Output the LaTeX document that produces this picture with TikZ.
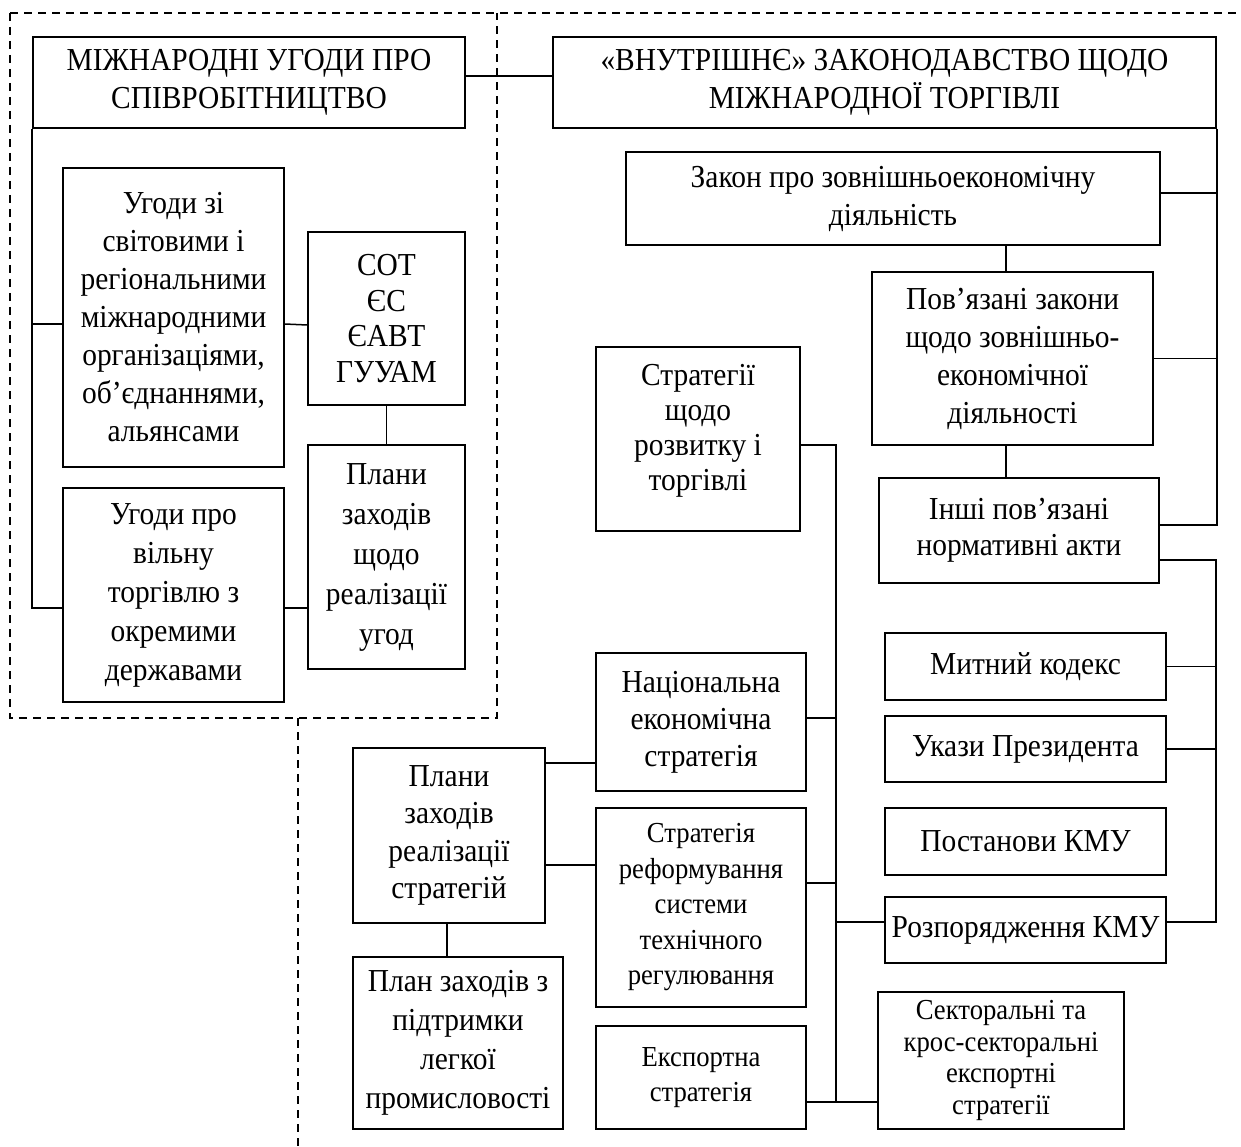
\documentclass[tikz,border=0pt]{standalone}
\usepackage{fontspec}
\setmainfont{Liberation Serif}[FakeStretch=0.92]
\tikzset{box/.style={draw,line width=1.8pt,align=center,inner sep=0pt,font=\fontsize{32}{38}\selectfont},headbox/.style={box,font=\fontsize{32}{38}\selectfont},smallbox/.style={box,font=\fontsize{29}{35.5}\selectfont},link/.style={line width=1.5pt},zone/.style={line width=1.4pt,dash pattern=on 8pt off 6pt}}

\begin{document}
\begin{tikzpicture}[x=1pt,y=-1pt]
\useasboundingbox (0,0) rectangle (1241,1147);
\draw[zone] (10,13) -- (1241,13); \draw[zone] (10,13) -- (10,718) -- (497,718) -- (497,13); \draw[zone] (298,718) -- (298,1147);
\node[headbox,minimum width=432pt,minimum height=91pt] (intl) at (249,82.5) {МІЖНАРОДНІ УГОДИ ПРО\\СПІВРОБІТНИЦТВО};
\node[headbox,minimum width=663pt,minimum height=91pt] (domestic) at (884.5,82.5) {«ВНУТРІШНЄ» ЗАКОНОДАВСТВО ЩОДО\\МІЖНАРОДНОЇ ТОРГІВЛІ};
\node[box,minimum width=221pt,minimum height=299pt] (orgs) at (173.5,317.5) {Угоди зі\\світовими і\\регіональними\\міжнародними\\організаціями,\\об’єднаннями,\\альянсами};
\node[box,font=\fontsize{32}{39}\selectfont,minimum width=221pt,minimum height=214pt] (fta) at (173.5,595) {Угоди про\\вільну\\торгівлю з\\окремими\\державами};
\node[box,font=\fontsize{32}{35.5}\selectfont,minimum width=157pt,minimum height=173pt] (wto) at (386.5,318.5) {СОТ\\ЄС\\ЄАВТ\\ГУУАМ};
\node[box,font=\fontsize{32}{40}\selectfont,minimum width=157pt,minimum height=224pt] (plansagr) at (386.5,557) {Плани\\заходів\\щодо\\реалізації\\угод};
\node[box,minimum width=534pt,minimum height=93pt] (law) at (893,198.5) {Закон про зовнішньоекономічну\\діяльність};
\node[box,minimum width=281pt,minimum height=173pt] (related) at (1012.5,358.5) {Пов’язані закони\\щодо зовнішньо-\\економічної\\діяльності};
\node[box,font=\fontsize{32}{36}\selectfont,minimum width=280pt,minimum height=105pt] (other) at (1019,530.5) {Інші пов’язані\\нормативні акти};
\node[box,minimum width=281pt,minimum height=67pt] (customs) at (1025.5,666.5) {Митний кодекс};
\node[box,minimum width=281pt,minimum height=66pt] (decrees) at (1025.5,749) {Укази Президента};
\node[box,minimum width=281pt,minimum height=67pt] (resol) at (1025.5,841.5) {Постанови КМУ};
\node[box,minimum width=281pt,minimum height=66pt] (orders) at (1025.5,930) {Розпорядження КМУ};
\node[box,font=\fontsize{32}{35}\selectfont,minimum width=204pt,minimum height=184pt,text depth=24pt] (devstrat) at (698,439) {Стратегії\\щодо\\розвитку і\\торгівлі};
\node[box,font=\fontsize{32}{37}\selectfont,minimum width=210pt,minimum height=138pt] (natstrat) at (701,722) {Національна\\економічна\\стратегія};
\node[smallbox,minimum width=210pt,minimum height=199pt] (techstrat) at (701,907.5) {Стратегія\\реформування\\системи\\технічного\\регулювання};
\node[smallbox,minimum width=210pt,minimum height=103pt] (expstrat) at (701,1077.5) {Експортна\\стратегія};
\node[smallbox,font=\fontsize{29}{31.5}\selectfont,minimum width=246pt,minimum height=137pt] (sectstrat) at (1001,1060.5) {Секторальні та\\крос-секторальні\\експортні\\стратегії};
\node[box,font=\fontsize{32}{37.5}\selectfont,minimum width=192pt,minimum height=175pt] (plansstrat) at (449,835.5) {Плани\\заходів\\реалізації\\стратегій};
\node[box,font=\fontsize{32}{39}\selectfont,minimum width=210pt,minimum height=172pt] (lightind) at (458,1043) {План заходів з\\підтримки\\легкої\\промисловості};
\coordinate (bus) at (1216,560); \coordinate (midbus) at (836,445);
\draw[link] ([yshift=6.5pt]intl.east) -- ([yshift=6.5pt]domestic.west);
\draw[link] (intl.south west) |- ([yshift=-13pt]fta.west); \draw[link] ([yshift=-6.5pt]orgs.west) -| (intl.south west);
\draw[link] ([yshift=-6.5pt]orgs.east) -- ([yshift=-6.5pt]wto.west); \draw[link] (wto.south) -- (plansagr.north);
\draw[link] ([yshift=-13pt]fta.east) -- ([yshift=-51pt]plansagr.west);
\draw[link] (domestic.south east) |- ([yshift=5.5pt]other.east); \draw[link] ([yshift=5.5pt]law.east) -| (domestic.south east); \draw[link] (related.east) -| (domestic.south east);
\draw[link] ([xshift=113pt]law.south) -- ([xshift=-6.5pt]related.north); \draw[link] ([xshift=-6.5pt]related.south) -- ([xshift=-13pt]other.north);
\draw[link] ([yshift=-29.5pt]other.east) -- (bus) |- ([yshift=8pt]orders.east); \draw[link] (customs.east) -| (bus); \draw[link] (decrees.east) -| (bus);
\draw[link] ([yshift=-6pt]devstrat.east) -- (midbus) |- ([yshift=-24.5pt]expstrat.east);
\draw[link] ([yshift=4pt]natstrat.east) -| (midbus); \draw[link] ([yshift=24.5pt]techstrat.east) -| (midbus); \draw[link] ([yshift=8pt]orders.west) -| (midbus);
\draw[link] ([yshift=-24.5pt]expstrat.east) -- ([yshift=-41.5pt]sectstrat.west);
\draw[link] ([yshift=72.5pt]plansstrat.east) -- ([yshift=-41pt]natstrat.west); \draw[link] ([yshift=-29.5pt]plansstrat.east) -- ([yshift=42.5pt]techstrat.west);
\draw[link] ([xshift=-2pt]plansstrat.south) -- ([xshift=-11pt]lightind.north);
\end{tikzpicture}
\end{document}
